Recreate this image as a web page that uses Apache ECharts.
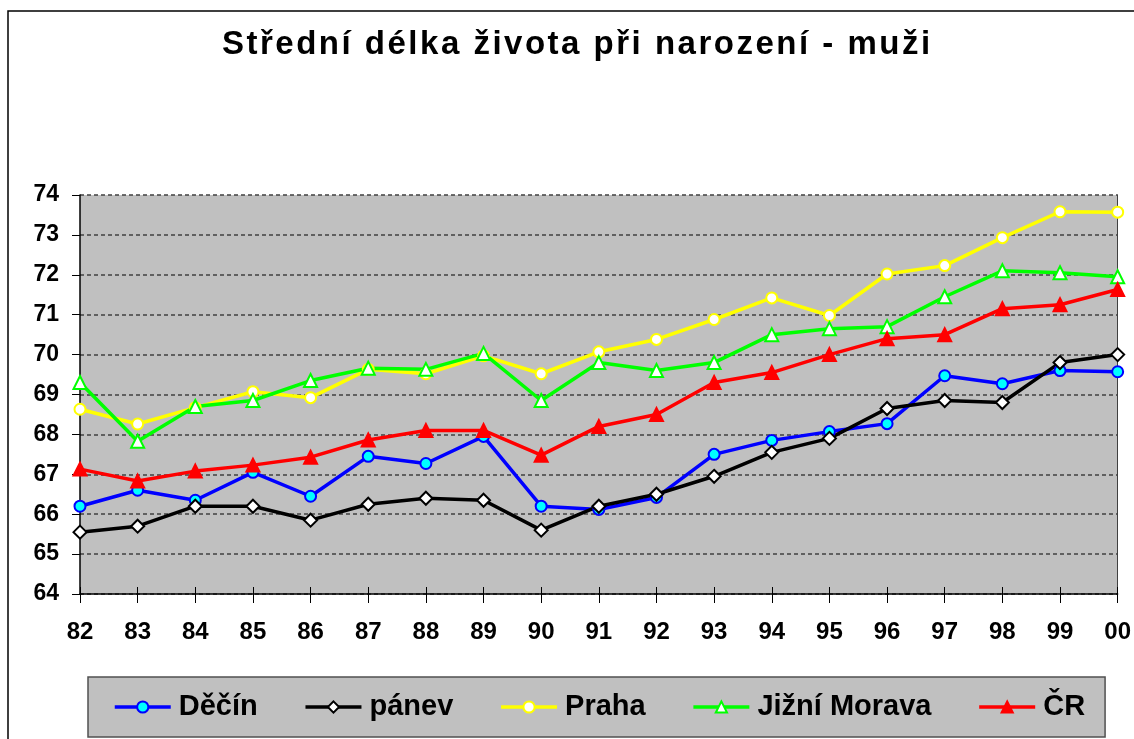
<!DOCTYPE html>
<html>
<head>
<meta charset="utf-8">
<script src="https://cdn.jsdelivr.net/npm/echarts@6/dist/echarts.min.js"></script>
<style>
html,body{margin:0;padding:0;background:#fff;}
#c{width:1134px;height:739px;}
</style>
</head>
<body>
<div id="c"></div>
<script>
const years = ['82','83','84','85','86','87','88','89','90','91','92','93','94','95','96','97','98','99','00'];
const decin  = [66.2,66.6,66.35,67.05,66.45,67.45,67.27,67.95,66.2,66.12,66.42,67.5,67.85,68.07,68.27,69.47,69.27,69.6,69.57];
const panev  = [65.55,65.7,66.2,66.2,65.85,66.25,66.4,66.35,65.6,66.2,66.5,66.95,67.55,67.9,68.65,68.85,68.8,69.8,70.0];
const praha  = [68.63,68.26,68.67,69.07,68.92,69.63,69.52,69.97,69.52,70.07,70.38,70.88,71.42,70.98,72.02,72.23,72.93,73.58,73.57];
const morava = [69.3,67.83,68.7,68.85,69.35,69.66,69.63,70.03,68.85,69.8,69.6,69.8,70.5,70.65,70.7,71.45,72.1,72.05,71.95];
const cr     = [67.13,66.83,67.08,67.23,67.43,67.86,68.1,68.1,67.48,68.2,68.5,69.3,69.55,70.0,70.4,70.5,71.15,71.25,71.63];
const seriesNames = ['Děčín','pánev','Praha','Jižní Morava','ČR'];
const titleText = 'Střední délka života při narození - muži';

// wider letter spacing for the title only (as in the reference)
(function(){
  const P = CanvasRenderingContext2D.prototype;
  const orig = P.fillText;
  P.fillText = function(t, x, y, m){
    if ('letterSpacing' in this) {
      this.letterSpacing = (this.font.indexOf('33px') >= 0) ? '2.5px' : '0px';
    }
    return m === undefined ? orig.call(this, t, x, y) : orig.call(this, t, x, y, m);
  };
})();

const FONT = 'Liberation Sans, Arial, sans-serif';
const chart = echarts.init(document.getElementById('c'), null, {renderer:'canvas'});

function mk(name, data, lineColor, symbol, size, fill, border){
  return {
    name, type:'line', data,
    symbol, symbolSize:size,
    showAllSymbol:true,
    lineStyle:{color:lineColor, width:3.5},
    itemStyle:{color:fill, borderColor:border, borderWidth:2},
    emphasis:{disabled:true},
    animation:false
  };
}

chart.setOption({
  animation:false,
  backgroundColor:'#ffffff',
  title:{
    text:titleText,
    left:217, top:23,
    textStyle:{fontFamily:FONT, fontWeight:'bold', fontSize:33, color:'#000'}
  },
  graphic:[{
    type:'rect', z:-10,
    shape:{x:8, y:11, width:1140, height:740},
    style:{fill:'#fff', stroke:'#000', lineWidth:1.5}
  }],
  legend:{
    left:88, top:677,
    backgroundColor:'#c0c0c0',
    borderColor:'#505050', borderWidth:1.5,
    padding:[15,20,15,25],
    itemWidth:56, itemHeight:14, itemGap:46,
    lineStyle:{width:3.5},
    textStyle:{fontFamily:FONT, fontWeight:'bold', fontSize:29, color:'#000', lineHeight:30, padding:[0,0,0,3]},
    data:seriesNames
  },
  grid:{
    left:80, top:195, right:12, bottom:145,
    show:true, backgroundColor:'#c0c0c0', borderWidth:0
  },
  xAxis:[{
    type:'category', data:years, boundaryGap:false, position:'bottom',
    axisLine:{show:true, lineStyle:{color:'#000', width:1.5}},
    axisTick:{show:true, length:9, alignWithLabel:true, lineStyle:{color:'#000', width:1}},
    axisLabel:{fontFamily:FONT, fontWeight:'bold', fontSize:24, color:'#000', margin:26, interval:0},
    splitLine:{show:false}
  },{
    type:'category', data:years, boundaryGap:false, position:'bottom', offset:0,
    axisLine:{show:false},
    axisTick:{show:true, inside:true, length:7, lineStyle:{color:'#000', width:1}},
    axisLabel:{show:false},
    splitLine:{show:false}
  }],
  yAxis:[{
    type:'value', min:64, max:74, interval:1,
    axisLine:{show:true, lineStyle:{color:'#000', width:1.5}},
    axisTick:{show:true, length:8, lineStyle:{color:'#000', width:1}},
    axisLabel:{fontFamily:FONT, fontWeight:'bold', fontSize:23, color:'#000', margin:21},
    splitLine:{show:true, lineStyle:{color:'#404040', width:1.5, type:[4,3]}}
  },{
    type:'value', min:64, max:74, interval:1, position:'right',
    axisLine:{show:true, lineStyle:{color:'#404040', width:1}},
    axisTick:{show:false}, axisLabel:{show:false}, splitLine:{show:false}
  }],
  series:[
    mk(seriesNames[0], decin, '#0000ff', 'circle', 11, '#00ffff', '#0000ff'),
    mk(seriesNames[1], panev, '#000000', 'diamond', 13, '#ffffff', '#000000'),
    mk(seriesNames[2], praha, '#ffff00', 'circle', 11, '#ffffff', '#ffff00'),
    mk(seriesNames[3], morava, '#00ff00', 'triangle', 13, '#ffffff', '#00ff00'),
    mk(seriesNames[4], cr, '#ff0000', 'triangle', 13, '#ff0000', '#ff0000')
  ]
});
</script>
</body>
</html>
